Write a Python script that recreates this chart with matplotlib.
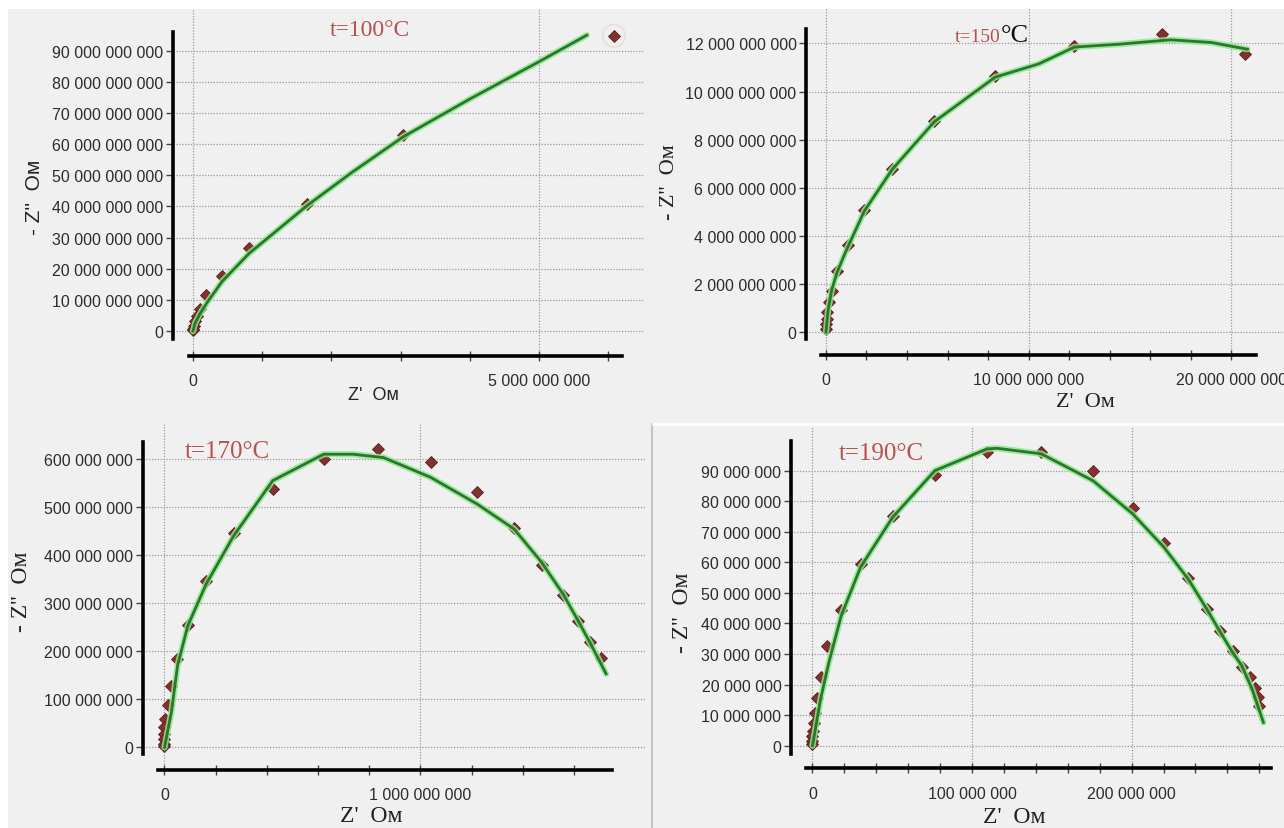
import numpy as np
import matplotlib
matplotlib.use("Agg")
import matplotlib.pyplot as plt
from matplotlib.ticker import FixedLocator, FuncFormatter
from matplotlib.patches import Rectangle
from matplotlib.lines import Line2D

# ---- data ----
# t = 100 C, Z' and -Z'' in units of 1e9 Ohm
pts100_x = [6.08, 3.04, 1.65, 0.81, 0.42, 0.195, 0.106, 0.06, 0.03, 0.012, 0.004, 0.0]
pts100_y = [94.8, 62.8, 40.7, 26.8, 17.6, 11.4, 7.2, 4.8, 3.2, 1.6, 0.8, 0.2]
fit100_x = [0, 0.03, 0.1, 0.2, 0.42, 0.81, 1.65, 2.3, 3.04, 4.0, 5.0, 5.69]
fit100_y = [0, 2.5, 5.5, 9.0, 15.9, 24.9, 40.3, 51.0, 62.4, 74.5, 86.5, 95.0]

# t = 150 C, units of 1e9 Ohm
pts150_x = [20.7, 16.6, 12.26, 8.35, 5.35, 3.28, 1.9, 1.09, 0.55, 0.28, 0.14, 0.06, 0.04, 0.02, 0.0]
pts150_y = [11.56, 12.39, 11.9, 10.63, 8.79, 6.78, 5.09, 3.63, 2.56, 1.70, 1.25, 0.83, 0.55, 0.35, 0.14]
fit150_x = [0, 0.1, 0.28, 0.55, 1.0, 1.9, 3.28, 5.35, 8.35, 10.5, 12.26, 14.5, 17.0, 19.0, 20.8]
fit150_y = [0, 0.9, 1.75, 2.5, 3.4, 5.05, 6.78, 8.75, 10.6, 11.15, 11.85, 11.97, 12.15, 12.04, 11.76]

# t = 170 C, Z' in 1e9 Ohm, -Z'' in 1e6 Ohm
pts170_x = [1.705, 1.663, 1.616, 1.558, 1.474, 1.367, 1.223, 1.040, 0.836, 0.622, 0.423, 0.270,
            0.163, 0.091, 0.048, 0.027, 0.014, 0.003, 0.0, 0.0, 0.0, 0.0, 0.0]
pts170_y = [185, 220, 263, 316, 380, 456, 532, 593, 621, 601, 537, 446,
            346, 255, 184, 128, 88, 59, 42, 28, 17, 7, 2]
fit170_x = [0, 0.027, 0.051, 0.091, 0.163, 0.270, 0.423, 0.622, 0.737, 0.856, 1.040, 1.223,
            1.367, 1.474, 1.558, 1.616, 1.663, 1.726]
fit170_y = [0, 73, 170, 253, 340, 440, 555, 610, 610, 603, 562, 506,
            454, 385, 319, 264, 218, 153]

# t = 190 C, units of 1e6 Ohm
pts190_x = [280.0, 279.3, 277.5, 273.9, 269.0, 263.3, 255.3, 247.1, 235.5, 220.3, 200.8, 175.8,
            143.4, 109.4, 76.7, 50.2, 30.1, 18.0, 9.0, 5.1, 2.6, 1.3, 0.8, 0.3, 0, 0, 0]
pts190_y = [12.9, 15.8, 18.8, 22.4, 25.6, 30.9, 37.4, 44.7, 54.9, 66.3, 77.7, 89.8,
            96.2, 96.2, 88.6, 75.3, 59.5, 44.4, 32.5, 22.6, 15.6, 10.7, 7.4, 4.9, 3.3, 1.6, 0.5]
fit190_x = [0, 5.1, 10.3, 18.0, 30.1, 50.2, 76.7, 109.4, 115.8, 143.4, 175.8, 200.8,
            220.3, 235.5, 247.1, 255.3, 263.3, 269.0, 275.5, 282.6]
fit190_y = [0, 15.3, 27.3, 42.5, 58.4, 74.7, 90.0, 97.1, 97.3, 95.5, 86.7, 75.8,
            64.9, 54.5, 44.7, 37.4, 30.5, 26.2, 18.5, 7.6]

G = 1e9
M = 1e6

W, H = 1284, 829
fig = plt.figure(figsize=(W / 100, H / 100), dpi=100, facecolor="#f0f0f0")

# white borders of the screenshots
fig.patches.append(Rectangle((0, 1 - 10 / H), 1, 10 / H, transform=fig.transFigure,
                             facecolor="white", edgecolor="none", zorder=0))
fig.patches.append(Rectangle((0, 0), 8 / W, 1, transform=fig.transFigure,
                             facecolor="white", edgecolor="none", zorder=0))
fig.lines.append(Line2D([652 / W, 652 / W], [0, 1 - 425 / H], transform=fig.transFigure,
                        color="#c4c4c4", lw=1.5))
fig.lines.append(Line2D([653 / W, 1], [1 - 425 / H, 1 - 425 / H], transform=fig.transFigure,
                        color="white", lw=2))

RED = "#83302f"
TITLE_RED = "#b5514f"
TICK_COL = "#2c2c2c"


def fmt(v, pos):
    return f"{int(round(v)):,}".replace(",", " ")


def panel(box, xlim, ylim, xb, yb, xmaj, xmin, ymaj):
    x0, y0, x1, y1 = box
    ax = fig.add_axes([x0 / W, 1 - y1 / H, (x1 - x0) / W, (y1 - y0) / H])
    ax.set_facecolor("none")
    ax.set_xlim(*xlim)
    ax.set_ylim(*ylim)
    for s in ["top", "right"]:
        ax.spines[s].set_visible(False)
    for s in ["left", "bottom"]:
        ax.spines[s].set_linewidth(2.6)
        ax.spines[s].set_color("black")
    ax.spines["left"].set_bounds(*yb)
    ax.spines["bottom"].set_bounds(*xb)
    ax.xaxis.set_major_locator(FixedLocator(xmaj))
    ax.xaxis.set_minor_locator(FixedLocator(xmin))
    ax.yaxis.set_major_locator(FixedLocator(ymaj))
    ax.xaxis.set_major_formatter(FuncFormatter(fmt))
    ax.yaxis.set_major_formatter(FuncFormatter(fmt))
    ax.tick_params(axis="y", direction="out", length=5, width=1, color="#444444",
                   labelsize=11.5, labelcolor=TICK_COL, pad=2)
    ax.tick_params(axis="x", which="both", direction="inout", length=7, width=1,
                   color="#444444", labelsize=11.5, labelcolor=TICK_COL, pad=9)
    for lab in ax.get_xticklabels() + ax.get_yticklabels():
        lab.set_family("Liberation Sans")
    ax.grid(True, which="major", color="#9a9a9a", linestyle=(0, (1, 1.3)), lw=0.9)
    ax.set_axisbelow(True)
    return ax


def draw(ax, px, py, fx, fy):
    ax.plot(fx, fy, color="#8fe88f", lw=4.5, solid_capstyle="round", zorder=3, alpha=0.85)
    ax.plot(px, py, linestyle="none", marker="D", ms=6, color=RED, mec="#5c1f1f",
            mew=0.6, zorder=2, clip_on=False)
    ax.plot(fx, fy, color="#2a762a", lw=2.0, zorder=4)


# t=100
ax1 = panel((172.5, 10, 645, 357), (-0.296 * G, 6.53 * G), (-8.03 * G, 103.4 * G),
            (-0.064 * G, 6.2 * G), (-2.57 * G, 96.0 * G),
            [0, 5 * G], np.arange(0, 7) * G, np.arange(0, 10) * 10 * G)
draw(ax1, np.array(pts100_x) * G, np.array(pts100_y) * G,
     np.array(fit100_x) * G, np.array(fit100_y) * G)
ax1.scatter([pts100_x[0] * G], [pts100_y[0] * G], s=260, facecolors="none",
            edgecolors="#ecdcdc", lw=1.2, zorder=1, clip_on=False)

# t=150
ax2 = panel((806.3, 10, 1284, 356), (-0.97 * G, 22.6 * G), (-0.94 * G, 13.43 * G),
            (-0.26 * G, 21.2 * G), (-0.28 * G, 12.6 * G),
            [0, 10 * G, 20 * G], np.arange(0, 11) * 2 * G, np.arange(0, 7) * 2 * G)
draw(ax2, np.array(pts150_x) * G, np.array(pts150_y) * G,
     np.array(fit150_x) * G, np.array(fit150_y) * G)

# t=170
ax3 = panel((142.9, 425, 645, 770.7), (-0.0844 * G, 1.878 * G), (-46.6 * M, 672.9 * M),
            (-0.024 * G, 1.75 * G), (-13.9 * M, 634.7 * M),
            [0, 1 * G], np.arange(0, 9) * 0.2 * G, np.arange(0, 7) * 100 * M)
draw(ax3, np.array(pts170_x) * G, np.array(pts170_y) * M,
     np.array(fit170_x) * G, np.array(fit170_y) * M)

# t=190
ax4 = panel((791.1, 427, 1284, 769.3), (-13.4 * M, 295.5 * M), (-7.4 * M, 104.6 * M),
            (-3.9 * M, 287.4 * M), (-2.7 * M, 99.8 * M),
            [0, 100 * M, 200 * M], np.arange(0, 15) * 20 * M, np.arange(0, 10) * 10 * M)
draw(ax4, np.array(pts190_x) * M, np.array(pts190_y) * M,
     np.array(fit190_x) * M, np.array(fit190_y) * M)


def ftext(x, y, s, **kw):
    fig.text(x / W, 1 - y / H, s, **kw)


# titles
ftext(370, 30, "t=100°C", ha="center", va="center", fontsize=17,
      family="Liberation Serif", color=TITLE_RED)
ftext(1001, 42, "t=150", ha="right", va="baseline", fontsize=14,
      family="Liberation Serif", color=TITLE_RED)
ftext(1001, 42, "°C", ha="left", va="baseline", fontsize=19,
      family="Liberation Serif", color="#111111")
ftext(227, 452, "t=170°C", ha="center", va="center", fontsize=18,
      family="Liberation Serif", color=TITLE_RED)
ftext(881, 454, "t=190°C", ha="center", va="center", fontsize=18,
      family="Liberation Serif", color=TITLE_RED)

# axis labels
ftext(34, 197, "- Z''  Ом", ha="center", va="center", rotation=90, fontsize=15,
      family="Liberation Sans", color="#222222")
ftext(373, 396, "Z'  Ом", ha="center", va="center", fontsize=13,
      family="Liberation Sans", color="#222222")
ftext(670, 182, "- Z''  Ом", ha="center", va="center", rotation=90, fontsize=16,
      family="Liberation Serif", color="#222222")
ftext(1085, 403, "Z'  Ом", ha="center", va="center", fontsize=16,
      family="Liberation Serif", color="#222222")
ftext(22, 592, "- Z''  Ом", ha="center", va="center", rotation=90, fontsize=17,
      family="Liberation Serif", color="#222222")
ftext(371, 817, "Z'  Ом", ha="center", va="center", fontsize=17,
      family="Liberation Serif", color="#222222")
ftext(682, 613, "- Z''  Ом", ha="center", va="center", rotation=90, fontsize=17,
      family="Liberation Serif", color="#222222")
ftext(1014, 818, "Z'  Ом", ha="center", va="center", fontsize=17,
      family="Liberation Serif", color="#222222")

fig.savefig("out.png", dpi=100, facecolor=fig.get_facecolor())
